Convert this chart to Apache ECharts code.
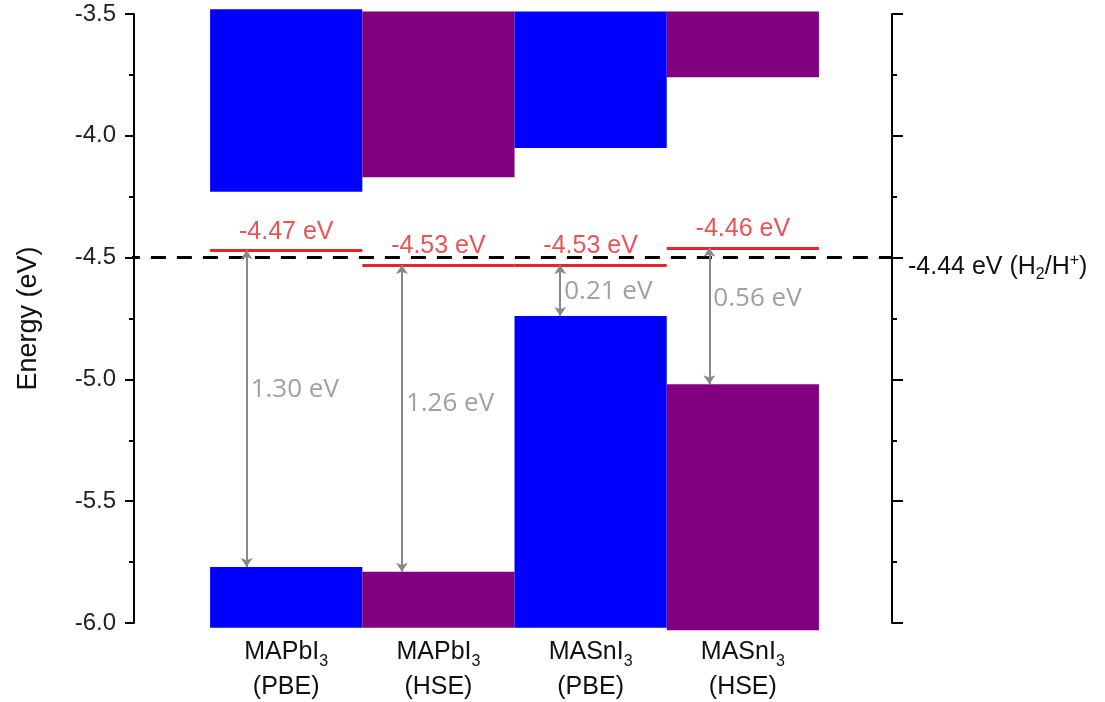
<!DOCTYPE html>
<html>
<head>
<meta charset="utf-8">
<script src="https://cdn.jsdelivr.net/npm/echarts@6/dist/echarts.min.js"></script>
<style>
  html, body {margin: 0; padding: 0; background: #fff;}
  #main {width: 1105px; height: 702px;}
</style>
</head>
<body>
<div id="main"></div>
<script>
// band diagram data (eV)
const compounds = ['MAPbI', 'MAPbI', 'MASnI', 'MASnI'];
const methods = ['PBE', 'HSE', 'PBE', 'HSE'];
const cbTop = [-3.48, -3.49, -3.49, -3.49];
const cbBottom = [-4.23, -4.17, -4.05, -3.76];
const vbTop = [-5.77, -5.79, -4.74, -5.02];
const vbBottom = [-6.02, -6.02, -6.02, -6.03];
const levels = [-4.47, -4.53, -4.53, -4.46];
const gaps = [1.30, 1.26, 0.21, 0.56];
const arrowX = [-0.26, 0.76, 1.8, 2.78];
const gapLabelY = [-5.04, -5.1, -4.64, -4.67];
const hydrogenLine = -4.5;
const hydrogenLabel = '-4.44 eV';

const bandColors = ['#0000ff', '#800080', '#0000ff', '#800080'];
const font = '"Liberation Sans", Arial, sans-serif';

const chart = echarts.init(document.getElementById('main'));

function renderBand(params, api) {
  const i = api.value(0);
  const p1 = api.coord([i - 0.5, api.value(1)]);
  const p2 = api.coord([i + 0.5, api.value(2)]);
  return {
    type: 'rect',
    shape: {x: p1[0], y: p1[1], width: p2[0] - p1[0], height: p2[1] - p1[1]},
    style: {fill: bandColors[i]}
  };
}

const bandData = [];
compounds.forEach((c, i) => {
  bandData.push([i, cbTop[i], cbBottom[i]]);
  bandData.push([i, vbTop[i], vbBottom[i]]);
});

const tickCommon = {
  type: 'value',
  min: -6,
  max: -3.5,
  interval: 0.5,
  splitLine: {show: false},
  axisLine: {show: true, onZero: false, lineStyle: {color: '#000', width: 2}},
  axisTick: {show: true, inside: false, length: 9, lineStyle: {color: '#000', width: 2}},
  minorTick: {show: true, splitNumber: 2, length: 5, lineStyle: {color: '#000', width: 2}}
};

chart.setOption({
  animation: false,
  backgroundColor: '#fff',
  grid: {left: 134, right: 213, top: 14, bottom: 79},
  xAxis: {
    type: 'value',
    min: -1,
    max: 3.98,
    interval: 1,
    splitLine: {show: false},
    axisLine: {show: false},
    axisTick: {show: false},
    axisLabel: {
      margin: 12,
      showMaxLabel: false,
      formatter(v) {
        if (!Number.isInteger(v) || v < 0 || v > 3) return '';
        return '{n|' + compounds[v] + '}{s|3}\n{n|(' + methods[v] + ')}';
      },
      rich: {
        n: {fontFamily: font, fontSize: 25, color: '#111', lineHeight: 35},
        s: {fontFamily: font, fontSize: 16, color: '#111', lineHeight: 16, verticalAlign: 'bottom'}
      }
    }
  },
  yAxis: [
    Object.assign({}, tickCommon, {
      position: 'left',
      name: 'Energy (eV)',
      nameLocation: 'middle',
      nameGap: 92,
      nameTextStyle: {fontFamily: font, fontSize: 27, color: '#111'},
      axisLabel: {fontFamily: font, fontSize: 24, color: '#222', margin: 18,
        formatter: v => v.toFixed(1)}
    }),
    Object.assign({}, tickCommon, {
      position: 'right',
      axisTick: {show: true, inside: false, length: 11, lineStyle: {color: '#000', width: 2}},
      axisLabel: {
        margin: 16,
        padding: [20, 0, 0, 0],
        formatter(v) {
          if (Math.abs(v - hydrogenLine) > 1e-6) return '';
          return '{a|' + hydrogenLabel + ' (H}{sub|2}{a|/H}{sup|+}{a|)}';
        },
        rich: {
          a: {fontFamily: font, fontSize: 25, color: '#111', lineHeight: 30},
          sub: {fontFamily: font, fontSize: 16, color: '#111', lineHeight: 15, verticalAlign: 'bottom'},
          sup: {fontFamily: font, fontSize: 16, color: '#111', lineHeight: 15, verticalAlign: 'top'}
        }
      }
    })
  ],
  series: [
    {
      type: 'custom',
      renderItem: renderBand,
      data: bandData,
      encode: {x: 0, y: [1, 2]},
      z: 1
    },
    {
      // H2/H+ reference
      type: 'lines',
      coordinateSystem: 'cartesian2d',
      symbol: 'none',
      lineStyle: {color: '#000', width: 3, type: [15, 11], opacity: 1},
      data: [{coords: [[-1.06, hydrogenLine], [3.98, hydrogenLine]]}],
      z: 3
    },
    {
      // levels
      type: 'lines',
      coordinateSystem: 'cartesian2d',
      symbol: 'none',
      lineStyle: {color: '#e8262a', width: 3, opacity: 1},
      data: levels.map((l, i) => ({coords: [[i - 0.5, l], [i + 0.5, l]]})),
      z: 4
    },
    {
      // gap arrows
      type: 'lines',
      coordinateSystem: 'cartesian2d',
      symbol: ['arrow', 'arrow'],
      symbolSize: 9,
      lineStyle: {color: '#888', width: 2, opacity: 1},
      data: levels.map((l, i) => ({coords: [[arrowX[i], l], [arrowX[i], vbTop[i]]]})),
      z: 5
    },
    {
      type: 'scatter',
      symbolSize: 0,
      data: levels.map((l, i) => [i, l]),
      label: {
        show: true, position: 'top', distance: 6,
        fontFamily: font, fontSize: 25, color: '#e8262a',
        formatter: p => p.value[1].toFixed(2) + ' eV'
      },
      z: 6
    },
    {
      type: 'scatter',
      symbolSize: 0,
      data: gaps.map((g, i) => [arrowX[i], gapLabelY[i]]),
      label: {
        show: true, position: 'right', distance: 4,
        fontFamily: '"Open Sans", sans-serif', fontSize: 26, color: '#888',
        formatter: p => gaps[p.dataIndex].toFixed(2) + ' eV'
      },
      z: 6
    }
  ]
});
</script>
</body>
</html>
